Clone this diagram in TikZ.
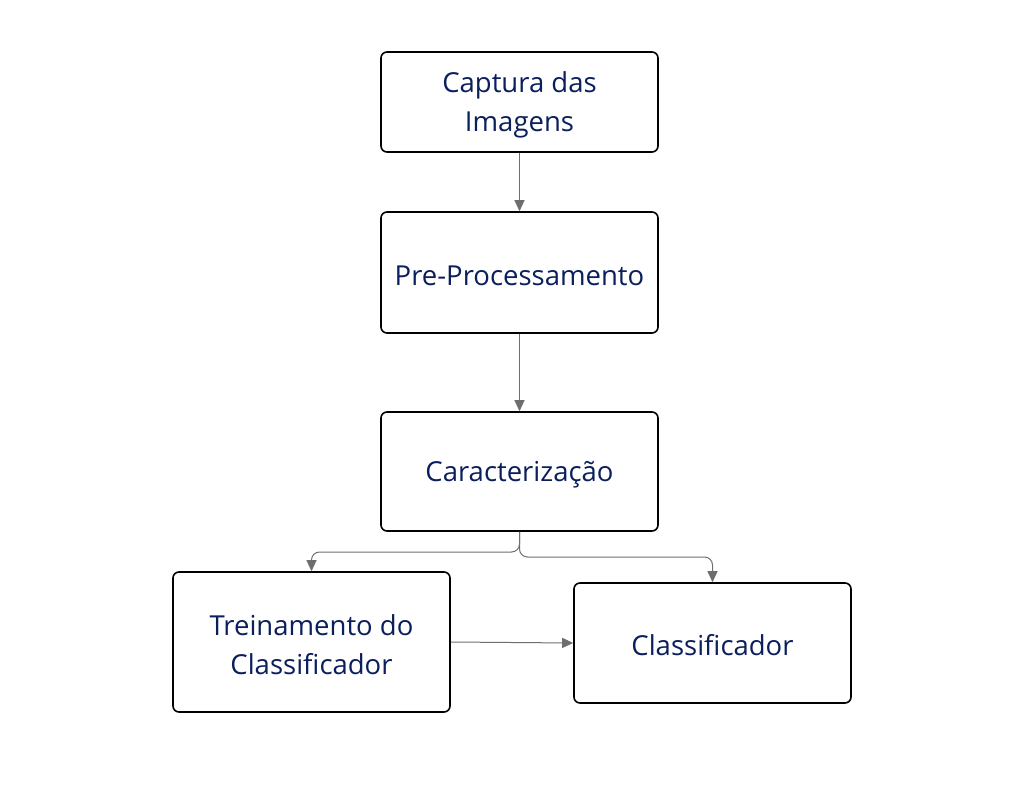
\documentclass[tikz,border=0pt]{standalone}
\usepackage{fontspec}
\setmainfont{Open Sans}
\usetikzlibrary{arrows.meta}
\definecolor{txt}{HTML}{0B1F5C}
\definecolor{arr}{HTML}{6E6E6E}
\begin{document}
\begin{tikzpicture}[x=1pt,y=-1pt,
  box/.style={draw=black,line width=1.6pt,rounded corners=6pt,fill=white,
    minimum width=277pt,inner sep=0pt},
  lbl/.style={align=center,text=txt,font=\fontsize{27.5}{39}\selectfont,inner sep=0pt},
  conn/.style={draw=arr,line width=1pt,-{Triangle[length=11pt,width=10pt]},rounded corners=8pt}]
\useasboundingbox (0,0) rectangle (1014,784);
\node[box,minimum height=100pt] (cap) at (519.5,102) {};
\node[box,minimum height=121pt] (pre) at (519.5,272.5) {};
\node[box,minimum height=119pt] (car) at (519.5,471.5) {};
\node[box,minimum height=140pt] (tre) at (311.5,642) {};
\node[box,minimum height=120pt] (cla) at (712.5,643) {};
\node[lbl] (capt) at (519.5,105) {Captura das\\Imagens};
\node[lbl] (pret) at (519.5,276) {Pre-Processamento};
\node[lbl] (cart) at (519.5,474.5) {Caracterização};
\node[lbl] (tret) at (311.5,645) {Treinamento do\\Classificador};
\node[lbl] (clat) at (712.5,645) {Classificador};
\draw[conn] (cap.south) -- (pre.north);
\draw[conn] (pre.south) -- (car.north);
\draw[conn] (car.south) |- (415,552) -| (tre.north);
\draw[conn] (car.south) |- (615,557) -| (cla.north);
\draw[conn] (tre.east) -- (cla.west);
\end{tikzpicture}
\end{document}
